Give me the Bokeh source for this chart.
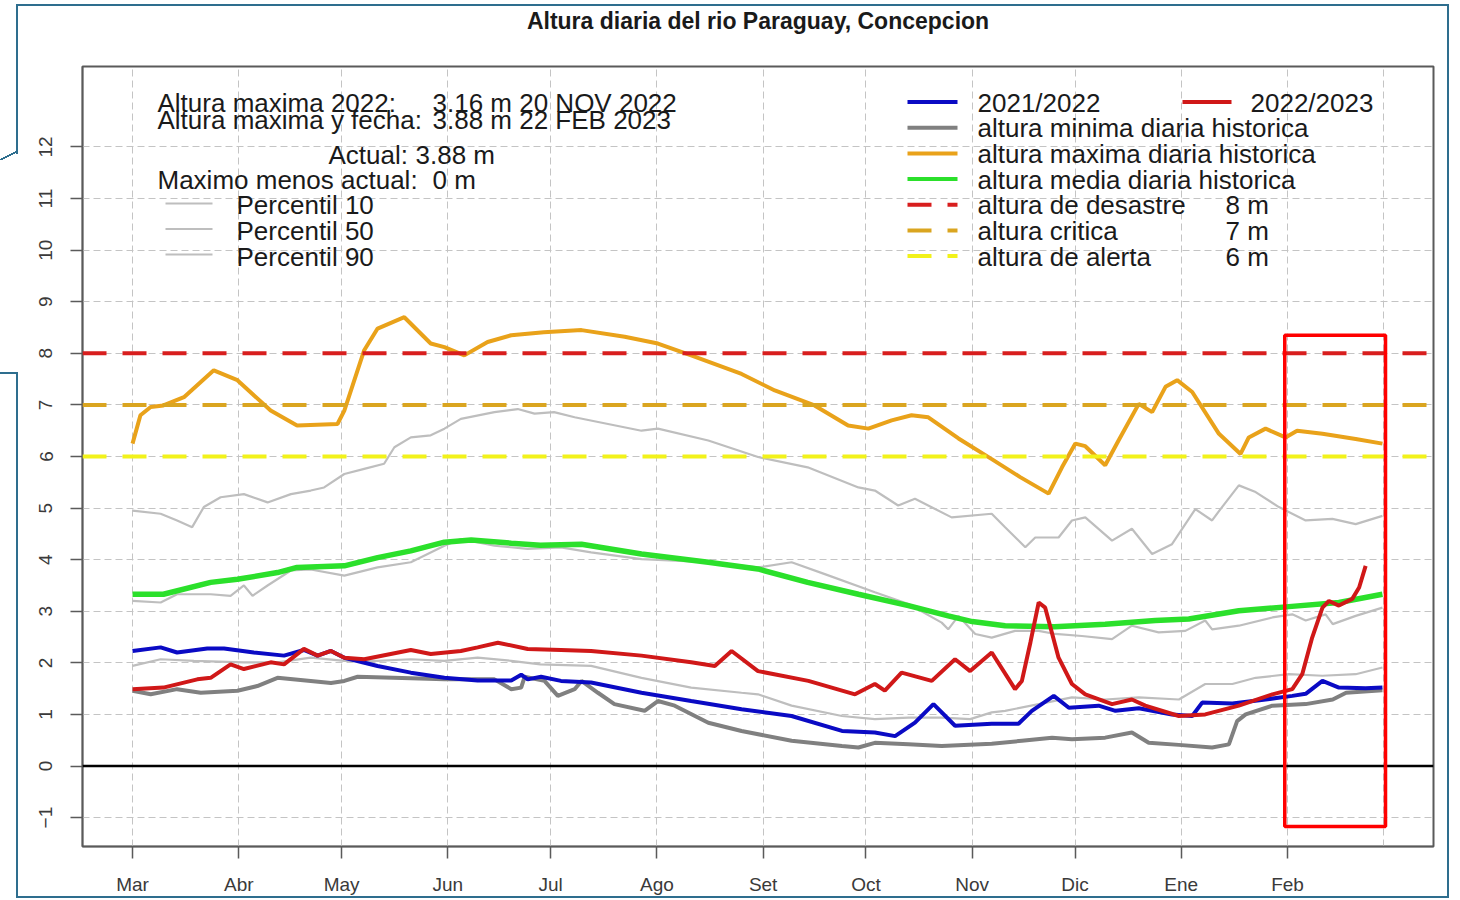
from bokeh.plotting import figure
from bokeh.models import Range1d, FixedTicker, Span, BoxAnnotation, Title
from bokeh.core.properties import value
from bokeh.embed import file_html
from bokeh.resources import INLINE

# ---------------- data (days counted from 1 March) ----------------
MONTH_DAYS = [0, 31, 61, 92, 122, 153, 184, 214, 245, 275, 306, 337]
MONTH_LABELS = ["Mar", "Abr", "May", "Jun", "Jul", "Ago", "Set", "Oct", "Nov", "Dic", "Ene", "Feb"]
YEAR_END = 365
Y_TICKS = list(range(-1, 13))

max_days = [0, 2.3, 5.3, 9, 15, 23.7, 30.6, 40.3, 48, 59.8, 61.8, 67.6, 71.5, 79.3, 87, 91, 96.8,
            103.6, 110.5, 120, 131, 143.6, 153.3, 163, 177.7, 187.4, 199, 208.8, 214.7, 221.5,
            227.3, 232.2, 241, 250.7, 259, 267.3, 271.2, 275.1, 278, 283.8, 287.7, 293.6, 297.5,
            301.4, 304.8, 309.2, 317, 323.3, 325.7, 330.6, 336.4, 339.8, 347.2, 356.9, 364.7]
max_vals = [6.25, 6.8, 6.96, 6.99, 7.15, 7.67, 7.48, 6.89, 6.6, 6.63, 6.89, 8.06, 8.48, 8.7, 8.19,
            8.12, 7.96, 8.22, 8.35, 8.41, 8.45, 8.32, 8.19, 7.96, 7.6, 7.28, 6.99, 6.6, 6.54, 6.7,
            6.8, 6.76, 6.35, 5.95, 5.6, 5.28, 5.79, 6.25, 6.2, 5.83, 6.31, 7.02, 6.86, 7.35, 7.48,
            7.25, 6.44, 6.05, 6.37, 6.54, 6.37, 6.5, 6.44, 6.34, 6.25]

mean_days = [0, 9, 22.8, 30.6, 42.3, 48, 61.8, 71.5, 81.2, 91, 98.8, 110.5, 119, 131, 148.5, 168,
             182.5, 197, 211.8, 226.4, 238, 245, 254.6, 269, 283.8, 298.4, 308.2, 322.8, 337.4,
             352, 364.7]
mean_vals = [3.33, 3.33, 3.56, 3.62, 3.75, 3.85, 3.88, 4.04, 4.17, 4.34, 4.38, 4.32, 4.28, 4.3,
             4.11, 3.95, 3.82, 3.56, 3.33, 3.11, 2.91, 2.8, 2.72, 2.70, 2.75, 2.82, 2.85, 3.01,
             3.09, 3.17, 3.33]

min_days = [0, 5.3, 13, 19.9, 30.6, 36.4, 42.3, 52, 57.9, 61.8, 65.7, 81.2, 91, 105.6, 110.5,
            113.4, 114.4, 120.2, 124.1, 129, 131, 135.8, 140.6, 149.4, 153.3, 158.2, 168, 177.7,
            192.3, 207, 211.8, 216.6, 226.4, 236.1, 250.7, 259.5, 268.3, 274.1, 283.8, 291.6,
            296.5, 305.3, 315, 319.9, 322.3, 324.8, 332.6, 342.3, 350.2, 354.1, 364.7]
min_vals = [1.46, 1.39, 1.49, 1.42, 1.46, 1.55, 1.71, 1.65, 1.61, 1.65, 1.73, 1.70, 1.68, 1.68,
            1.49, 1.52, 1.73, 1.65, 1.36, 1.49, 1.65, 1.42, 1.20, 1.07, 1.26, 1.17, 0.84, 0.68,
            0.49, 0.39, 0.36, 0.45, 0.42, 0.39, 0.43, 0.49, 0.55, 0.52, 0.55, 0.65, 0.45, 0.41,
            0.36, 0.42, 0.87, 1.00, 1.17, 1.20, 1.29, 1.42, 1.47]

s2122_days = [0, 8.2, 13, 21.8, 26.7, 35.4, 44.2, 50, 54, 57.9, 61.8, 71.5, 81.2, 91, 100.7,
              110.5, 113.4, 115.3, 119.2, 125, 133.8, 148.5, 163, 177.7, 192.3, 207, 216.6,
              222.5, 228.3, 233.7, 240, 250.7, 258.5, 262.4, 268.8, 273.2, 281.9, 286.8, 293.6,
              303.3, 309.2, 312.1, 320.9, 330.6, 338.4, 342.3, 347.2, 352, 359.8, 364.7]
s2122_vals = [2.23, 2.3, 2.2, 2.28, 2.28, 2.2, 2.14, 2.25, 2.14, 2.23, 2.1, 1.94, 1.81, 1.71,
              1.66, 1.66, 1.77, 1.68, 1.73, 1.65, 1.62, 1.42, 1.26, 1.10, 0.97, 0.68, 0.65, 0.58,
              0.84, 1.20, 0.78, 0.82, 0.82, 1.07, 1.36, 1.13, 1.17, 1.07, 1.12, 1.00, 0.97, 1.23,
              1.21, 1.29, 1.36, 1.40, 1.65, 1.52, 1.51, 1.52]

s2223_days = [0, 9, 18.9, 22.8, 28.6, 32.5, 40.3, 44.2, 50, 54, 57.9, 61.8, 67.6, 81.2, 87, 95.8,
              100.7, 106.6, 115.3, 125, 133.8, 148.5, 163, 169.9, 174.8, 182.5, 197.2, 210.8,
              216.6, 219.5, 224.4, 233.2, 240, 244.4, 250.7, 257.5, 259.5, 262, 264.4, 266.3,
              268.2, 270.2, 274.1, 278, 285.8, 291.6, 295.5, 305.3, 313, 322.8, 332.6, 338.4,
              341.3, 344.2, 347.2, 349.1, 352, 355.9, 357.9, 359.8]
s2223_vals = [1.49, 1.52, 1.68, 1.71, 1.97, 1.88, 2.01, 1.97, 2.27, 2.14, 2.23, 2.1, 2.07, 2.25,
              2.17, 2.23, 2.30, 2.39, 2.27, 2.25, 2.23, 2.14, 2.01, 1.94, 2.23, 1.84, 1.65, 1.39,
              1.59, 1.46, 1.81, 1.65, 2.07, 1.84, 2.2, 1.49, 1.65, 2.4, 3.17, 3.07, 2.6, 2.1,
              1.59, 1.39, 1.20, 1.29, 1.17, 0.97, 1.00, 1.17, 1.39, 1.49, 1.78, 2.49, 3.07, 3.20,
              3.11, 3.24, 3.46, 3.88]

p90_days = [0, 8.2, 13, 17.4, 20.8, 25.7, 32.5, 39.4, 46.2, 52, 55.9, 61.8, 67.6, 73.4, 76.4,
            81.2, 87, 91, 95.8, 105.6, 112.4, 117.3, 123, 129, 148.5, 153.3, 168, 182.5, 197,
            211.8, 216.6, 223.4, 228.3, 239, 250.7, 254.6, 260.5, 263.4, 270.2, 274.1, 278,
            285.8, 291.6, 297.5, 303.3, 310.1, 315, 317.9, 322.8, 327.7, 334.5, 342.3, 350.1,
            356.9, 364.7]
p90_vals = [4.95, 4.89, 4.76, 4.63, 5.02, 5.21, 5.27, 5.11, 5.27, 5.34, 5.40, 5.66, 5.76, 5.86,
            6.18, 6.37, 6.41, 6.54, 6.73, 6.86, 6.92, 6.83, 6.86, 6.76, 6.50, 6.54, 6.31, 5.99,
            5.79, 5.40, 5.34, 5.05, 5.18, 4.82, 4.89, 4.63, 4.24, 4.43, 4.43, 4.76, 4.82, 4.37,
            4.60, 4.11, 4.30, 4.98, 4.76, 5.02, 5.44, 5.31, 5.02, 4.76, 4.79, 4.69, 4.85]

p50_days = [0, 8.2, 13, 22.8, 28.6, 32.5, 35, 39.4, 46.2, 52, 61.8, 71.5, 81.2, 86.1, 91, 95.8,
            105.6, 115.3, 125, 133.8, 148.5, 168, 182.5, 192.3, 202, 216.6, 226.4, 236.1, 238,
            241, 245.9, 250.7, 257.5, 264.4, 269.2, 277, 285.8, 291.6, 299.4, 307.2, 313, 315,
            322.8, 332.6, 338.4, 342.3, 348.1, 350.2, 356.9, 364.7]
p50_vals = [3.20, 3.17, 3.33, 3.33, 3.30, 3.50, 3.30, 3.50, 3.79, 3.81, 3.69, 3.85, 3.95, 4.11,
            4.27, 4.40, 4.27, 4.21, 4.24, 4.14, 4.01, 3.95, 3.85, 3.95, 3.72, 3.37, 3.14, 2.78,
            2.65, 2.91, 2.56, 2.49, 2.62, 2.62, 2.56, 2.52, 2.46, 2.72, 2.59, 2.62, 2.82, 2.65,
            2.72, 2.88, 2.94, 2.82, 2.94, 2.75, 2.91, 3.07]

p10_days = [0, 8.2, 17.9, 32.5, 42.3, 52, 61.8, 71.5, 81.2, 91, 100.7, 110.5, 119, 133.8, 148.5,
            163, 177.7, 182.5, 192.3, 207, 216.6, 226.4, 236.1, 244.4, 250.7, 254.6, 264.4,
            274.1, 283.8, 293.6, 305.3, 313, 320.9, 327.7, 337.4, 347.2, 356.9, 364.7]
p10_vals = [1.94, 2.07, 2.04, 2.01, 2.01, 2.10, 2.04, 2.04, 2.07, 2.04, 2.10, 2.04, 1.97, 1.94,
            1.71, 1.52, 1.42, 1.39, 1.17, 0.97, 0.91, 0.94, 0.94, 0.91, 1.04, 1.07, 1.20, 1.33,
            1.29, 1.33, 1.29, 1.59, 1.59, 1.71, 1.78, 1.75, 1.78, 1.91]

THRESHOLDS = [8, 7, 6]
THRESHOLD_NAMES = ["altura de desastre", "altura critica", "altura de alerta"]
HIGHLIGHT_X = [336.2, 365.6]
HIGHLIGHT_Y = [-1.17, 8.35]

info_labels = ["Altura maxima 2022:", "Altura maxima y fecha:", "Actual:", "Maximo menos actual:"]
info_values = ["3.16 m 20 NOV 2022", "3.88 m 22 FEB 2023", "3.88 m", "0 m"]
pct_labels = ["Percentil 10", "Percentil 50", "Percentil 90"]

TITLE = "Altura diaria del rio Paraguay, Concepcion"

# ---------------- styles ----------------
C_BLUE = "#0A0AC4"
C_RED = "#D01818"
C_MIN = "#808080"
C_MAX = "#E9A21A"
C_MEAN = "#2BE02B"
C_PCT = "#BEBEBE"
C_THR = ["#D81E1E", "#DAA520", "#F2F21A"]
C_FRAME = "#2E6E8E"
FONT = "Liberation Sans"
TXT = "#1a1a1a"

X0, X1 = -14.6, 379.6
Y0, Y1 = -1.56, 13.56
W, H = 1458, 898
# frame placement on the canvas (pixels)
FL, FR, FT, FB = 82, 1433, 66, 846
TEXT_SHIFT = 9  # svg text sits lower than the requested alphabetic baseline


def lx(px):
    """layout pixel x -> data x"""
    return X0 + (px - FL) / (FR - FL) * (X1 - X0)


def ly(py):
    """layout pixel y -> data y"""
    return Y1 - (py - FT) / (FB - FT) * (Y1 - Y0)


def ty(py):
    """text baseline pixel y -> data y"""
    return ly(py - TEXT_SHIFT)


# decorative outer frame drawn as CSS background layers (behind a transparent border fill)
solid = f"linear-gradient({C_FRAME}, {C_FRAME})"
diag = (f"linear-gradient(to top left, transparent calc(50% - 1px), {C_FRAME} calc(50% - 1px), "
        f"{C_FRAME} calc(50% + 1px), transparent calc(50% + 1px))")
frame_layers = [
    (solid, "1433px 2px", "16px 4px"),
    (solid, "2px 894px", "1447px 4px"),
    (solid, "1433px 2px", "16px 896px"),
    (solid, "2px 150px", "16px 4px"),
    (solid, "2px 526px", "16px 372px"),
    (solid, "17px 2px", "0px 372px"),
    (diag, "18px 9px", "0px 151px"),
]
frame_styles = {
    "background-color": "white",
    "background-image": ", ".join(l[0] for l in frame_layers),
    "background-size": ", ".join(l[1] for l in frame_layers),
    "background-position": ", ".join(l[2] for l in frame_layers),
    "background-repeat": "no-repeat",
}

p = figure(width=W, height=H, output_backend="svg", toolbar_location=None,
           x_range=Range1d(X0, X1), y_range=Range1d(Y0, Y1),
           min_border_left=FL, min_border_right=W - FR, min_border_top=FT,
           min_border_bottom=H - FB, background_fill_color="white",
           border_fill_color=None, styles=frame_styles)

# real title outermost, spacer title between it and the frame
p.title.text = TITLE
p.title.align = "center"
p.title.text_font = FONT
p.title.text_font_size = "23px"
p.title.text_font_style = "bold"
p.title.text_color = TXT
p.title.standoff = 0
p.add_layout(Title(text=" ", text_font_size="10px", standoff=20), "above")

p.outline_line_color = "#5a5a5a"
p.outline_line_width = 2

for ax in (p.xaxis, p.yaxis):
    ax.axis_line_color = "#5a5a5a"
    ax.axis_line_width = 1.5
    ax.major_tick_line_color = "#5a5a5a"
    ax.major_tick_line_width = 1.5
    ax.major_tick_out = 12
    ax.major_tick_in = 0
    ax.minor_tick_line_color = None
    ax.major_label_text_font = FONT
    ax.major_label_text_font_size = "19px"
    ax.major_label_text_color = "#3a3a3a"

p.xaxis.ticker = FixedTicker(ticks=MONTH_DAYS)
p.xaxis.major_label_overrides = {d: m for d, m in zip(MONTH_DAYS, MONTH_LABELS)}
p.xaxis.major_label_standoff = 15
p.yaxis.ticker = FixedTicker(ticks=Y_TICKS)
p.yaxis.major_label_orientation = "vertical"
p.yaxis.major_label_standoff = 18

p.xgrid.ticker = FixedTicker(ticks=MONTH_DAYS + [YEAR_END])
p.ygrid.ticker = FixedTicker(ticks=Y_TICKS)
for g in (p.xgrid, p.ygrid):
    g.grid_line_color = "#c4c4c4"
    g.grid_line_dash = "7 4"
    g.grid_line_width = 1

# ---------------- series ----------------
for d, v in ((p10_days, p10_vals), (p50_days, p50_vals), (p90_days, p90_vals)):
    p.line(d, v, line_color=C_PCT, line_width=2.2)
p.line(min_days, min_vals, line_color=C_MIN, line_width=4)
p.line(max_days, max_vals, line_color=C_MAX, line_width=4)
p.line(mean_days, mean_vals, line_color=C_MEAN, line_width=5.5)
p.line(s2122_days, s2122_vals, line_color=C_BLUE, line_width=4)
p.line(s2223_days, s2223_vals, line_color=C_RED, line_width=4)

p.add_layout(Span(location=0, dimension="width", line_color="black", line_width=2.5))
for t, c in zip(THRESHOLDS, C_THR):
    p.add_layout(Span(location=t, dimension="width", line_color=c, line_width=4,
                      line_dash="24 16"))

p.add_layout(BoxAnnotation(left=HIGHLIGHT_X[0], right=HIGHLIGHT_X[1],
                           bottom=HIGHLIGHT_Y[0], top=HIGHLIGHT_Y[1],
                           fill_alpha=0, line_color="#FF0000", line_alpha=1,
                           line_width=3.5))

# ---------------- legend / info block (layout positions in px) ----------------
tk = dict(text_font=value(FONT), text_font_size="26px", text_color=TXT,
          text_baseline="alphabetic", text_align="left")

info_x = [157, 157, 328, 157]
info_vx = [432, 432, 415, 432]
info_base = [111, 128, 163, 188]
p.text(x=[lx(v) for v in info_x], y=[ty(v) for v in info_base], text=info_labels, **tk)
p.text(x=[lx(v) for v in info_vx], y=[ty(v) for v in info_base], text=info_values, **tk)

pct_base = [213, 239, 265]
pct_line = [203, 228.5, 254]
p.text(x=[lx(236)] * 3, y=[ty(v) for v in pct_base], text=pct_labels, **tk)
p.segment(x0=[lx(165)] * 3, x1=[lx(212)] * 3, y0=[ly(v) for v in pct_line],
          y1=[ly(v) for v in pct_line], line_color=C_PCT, line_width=2.2)

r_base = [111, 136.7, 162.4, 188, 213.8, 239.5, 265]
r_line = [v - 9.5 for v in r_base]
r_text = ["2021/2022", "altura minima diaria historica", "altura maxima diaria historica",
          "altura media diaria historica"] + THRESHOLD_NAMES
p.text(x=[lx(977)] * 7, y=[ty(v) for v in r_base], text=r_text, **tk)
p.text(x=[lx(1250)], y=[ty(r_base[0])], text=["2022/2023"], **tk)
p.text(x=[lx(1225)] * 3, y=[ty(v) for v in r_base[4:]], text=[f"{t} m" for t in THRESHOLDS], **tk)

solid_cols = [C_BLUE, C_MIN, C_MAX, C_MEAN]
p.segment(x0=[lx(907)] * 4, x1=[lx(957)] * 4, y0=[ly(v) for v in r_line[:4]],
          y1=[ly(v) for v in r_line[:4]], line_color=solid_cols, line_width=4)
p.segment(x0=[lx(1182)], x1=[lx(1231)], y0=[ly(r_line[0])], y1=[ly(r_line[0])],
          line_color=C_RED, line_width=4)
p.segment(x0=[lx(907)] * 3, x1=[lx(957)] * 3, y0=[ly(v) for v in r_line[4:]],
          y1=[ly(v) for v in r_line[4:]], line_color=C_THR, line_width=4, line_dash="24 16")

open("out.html", "w").write(file_html(p, INLINE))
